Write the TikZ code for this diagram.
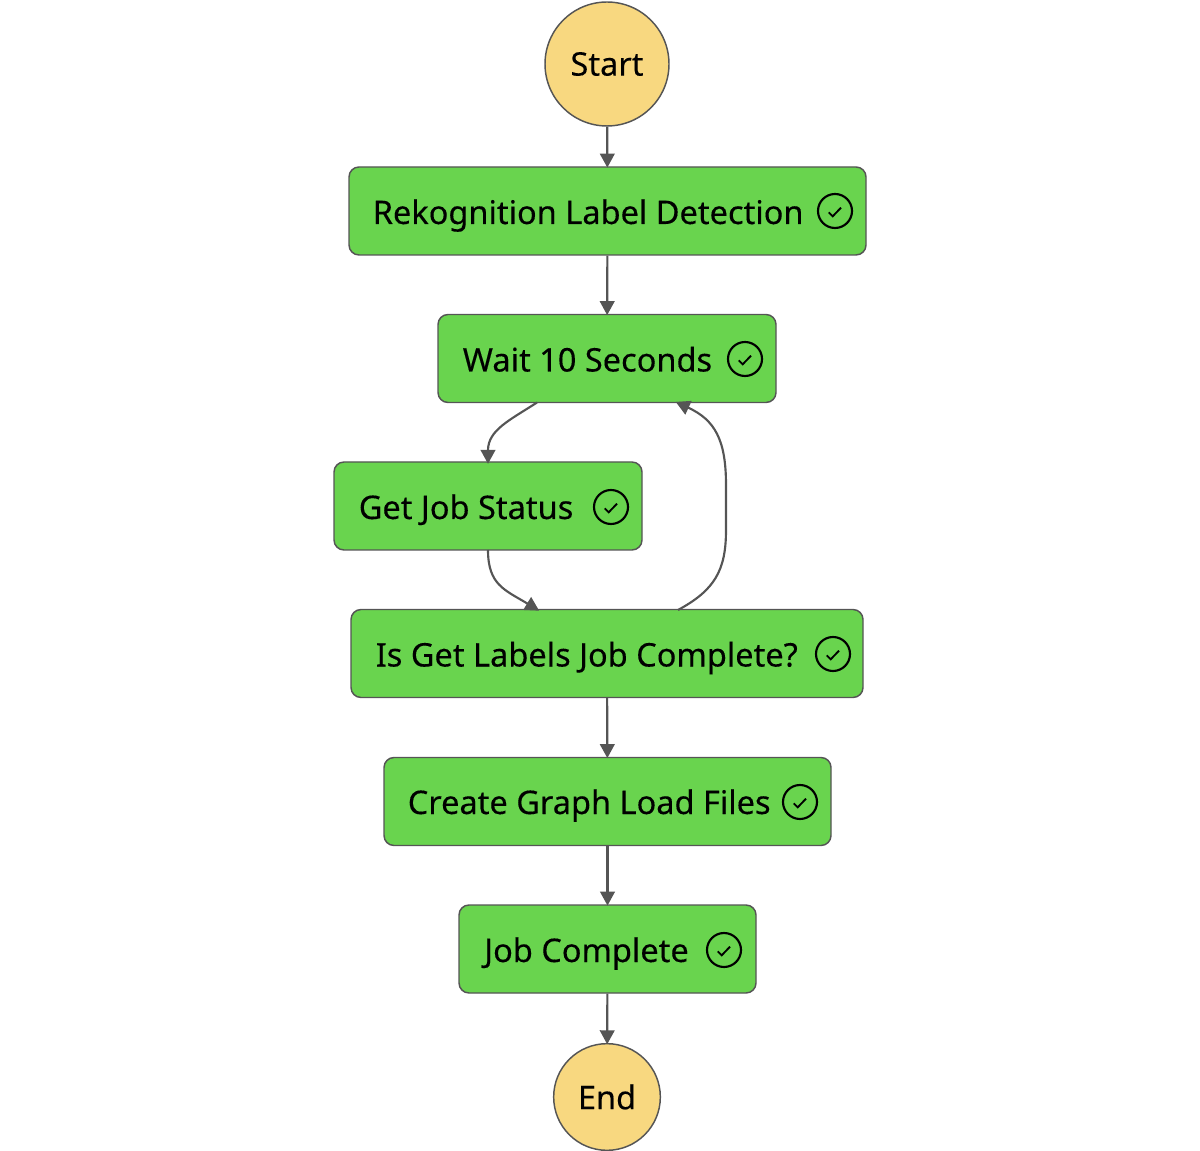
\documentclass[tikz,border=0pt]{standalone}
\usepackage{fontspec}
\setmainfont[FakeBold=0.25]{Noto Sans}
\usetikzlibrary{arrows.meta}
\definecolor{stategreen}{RGB}{105,212,78}
\definecolor{startyellow}{RGB}{248,216,128}
\definecolor{edgegrey}{RGB}{85,85,85}
\tikzset{
  statebox/.style={draw=edgegrey,line width=1.1pt,fill=stategreen,rounded corners=7.5pt,minimum height=66pt,inner sep=0pt},
  terminal/.style={circle,draw=edgegrey,line width=1.1pt,fill=startyellow,inner sep=0pt,font=\fontsize{24.4pt}{28pt}\selectfont},
  statelabel/.style={anchor=base west,inner sep=0pt,font=\fontsize{24.4pt}{28pt}\selectfont},
  doneicon/.style={circle,draw=black,line width=1.6pt,minimum size=25.5pt,inner sep=0pt},
  flow/.style={draw=edgegrey,line width=1.6pt,shorten >=-1pt,-{Triangle[length=10.5pt,width=11pt]}},
  tick/.style={draw=black,line width=1.4pt}
}
\newcommand{\donetick}[1]{\draw[tick] ([shift={(-6.3,1.3)}]#1.center) -- ([shift={(-2.3,5.3)}]#1.center) -- ([shift={(6,-3.3)}]#1.center);}
\begin{document}
\begin{tikzpicture}[x=0.75pt,y=0.75pt,yscale=-1,xscale=1]
\useasboundingbox (0,0) rectangle (1200,1151);

% States
\node[terminal,minimum size=93pt] (start) at (607,64) {\raisebox{-1pt}{Start}};
\node[statebox,minimum width=387.75pt] (rekognition) at (607.5,211) {};
\node[statebox,minimum width=253.5pt] (wait) at (607,358.5) {};
\node[statebox,minimum width=231pt] (status) at (488,506) {};
\node[statebox,minimum width=384pt] (complete) at (607,653.5) {};
\node[statebox,minimum width=335.25pt] (files) at (607.5,801.5) {};
\node[statebox,minimum width=222.75pt] (job) at (607.5,949) {};
\node[terminal,minimum size=80pt] (end) at (607,1097) {End};

% Labels
\node[statelabel] (rekognitionText) at (372.5,224) {Rekognition Label Detection};
\node[statelabel] (waitText) at (462.5,371.5) {Wait 10 Seconds};
\node[statelabel] (statusText) at (358.5,519) {Get Job Status};
\node[statelabel] (completeText) at (375.5,666.5) {Is Get Labels Job Complete?};
\node[statelabel] (filesText) at (407.5,814) {Create Graph Load Files};
\node[statelabel] (jobText) at (484,962) {Job Complete};

% Icons
\node[doneicon] (rekognitionIcon) at (835,211) {};
\node[doneicon] (waitIcon) at (745,359) {};
\node[doneicon] (statusIcon) at (611,507) {};
\node[doneicon] (completeIcon) at (833,654) {};
\node[doneicon] (filesIcon) at (800,802) {};
\node[doneicon] (jobIcon) at (724,950) {};
\donetick{rekognitionIcon}
\donetick{waitIcon}
\donetick{statusIcon}
\donetick{completeIcon}
\donetick{filesIcon}
\donetick{jobIcon}

% Connectors
\coordinate (waitOut) at (537,402.5);
\coordinate (statusIn) at (488,462.5);
\coordinate (statusOut) at (488,550);
\coordinate (completeIn) at (538,610);
\coordinate (completeOut) at (678,610);
\coordinate (waitIn) at (677,402.5);
\draw[flow] (start) -- (rekognition);
\draw[flow] (rekognition) -- (wait);
\draw[flow] (waitOut) .. controls (510,420) and (488,430) .. (statusIn);
\draw[flow] (statusOut) .. controls (488,585) and (505,590) .. (completeIn);
\draw[flow] (completeOut) .. controls (715,590) and (726,570) .. (726,530) -- (726,485) .. controls (726,440) and (715,420) .. (waitIn);
\draw[flow] (complete) -- (files);
\draw[flow] (files) -- (job);
\draw[flow] (job) -- (end);

\end{tikzpicture}
\end{document}
